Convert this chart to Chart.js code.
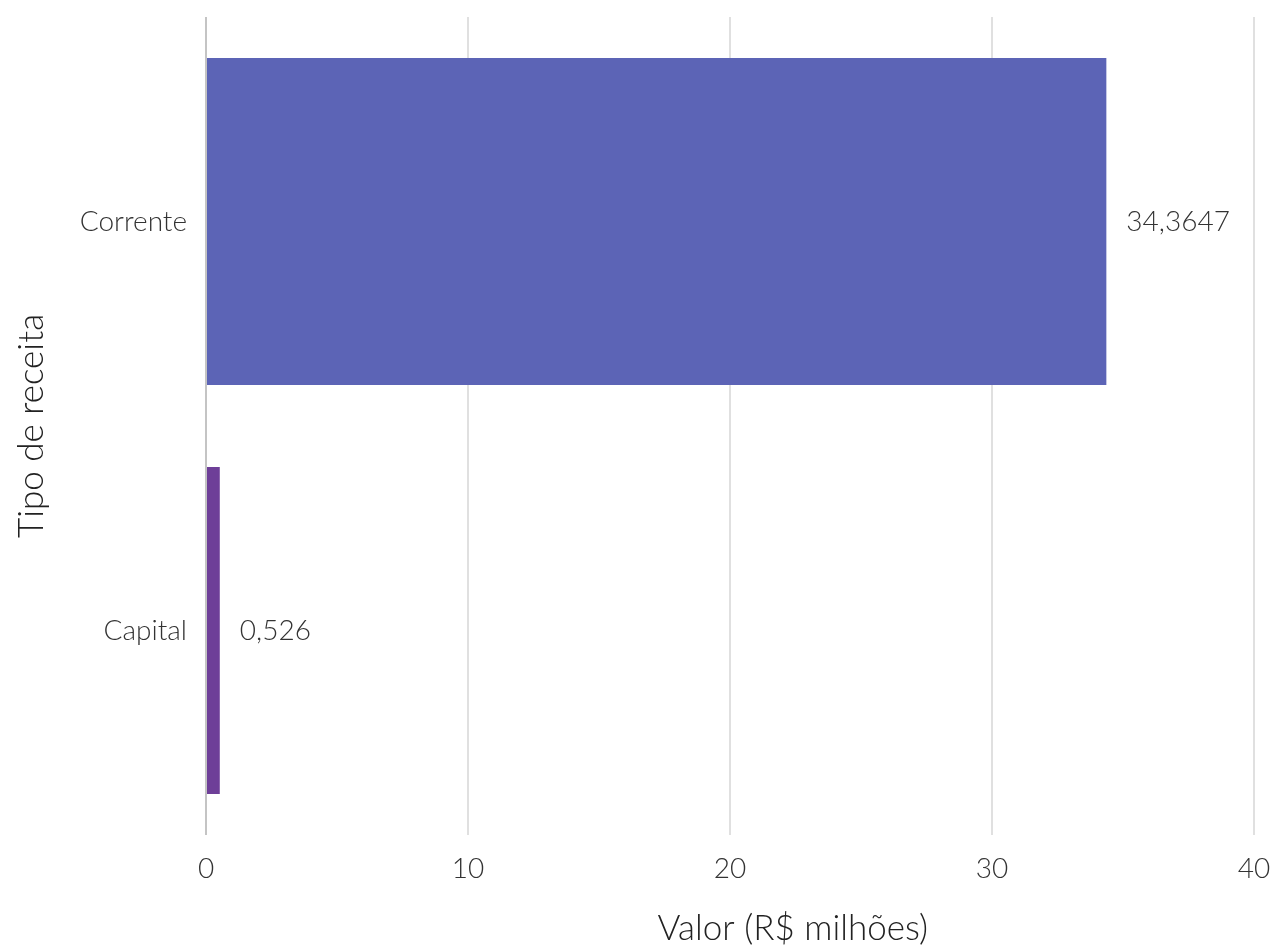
<!DOCTYPE html>
<html>
<head>
<meta charset="utf-8">
<script src="https://cdn.jsdelivr.net/npm/chart.js@4"></script>
<style>
  html, body { margin: 0; padding: 0; background: #fff; }
  #box { width: 1274px; height: 946px; }
</style>
</head>
<body>
<div id="box"><canvas id="receitaChart" width="1274" height="946"></canvas></div>
<script>
// dados
const categorias = ['Corrente', 'Capital'];
const valores = [34.3647, 0.526];
const rotulos = ['34,3647', '0,526'];
const coresBarras = ['#5c64b6', '#6e3f98'];
const ticksX = [0, 10, 20, 30, 40];
const tituloX = 'Valor (R$ milhões)';

const fonte = "Lato, 'Open Sans', sans-serif";

// rótulos de valor à direita das barras + título do eixo x (deslocado p/ direita)
const rotuloPlugin = {
  id: 'rotuloValor',
  afterDatasetsDraw(chart) {
    const ctx = chart.ctx;
    const meta = chart.getDatasetMeta(0);
    ctx.save();
    ctx.font = '300 28px ' + fonte;
    ctx.fillStyle = '#333';
    ctx.textAlign = 'left';
    ctx.textBaseline = 'middle';
    meta.data.forEach((bar, i) => {
      ctx.fillText(rotulos[i], bar.x + 20, bar.y);
    });
    const area = chart.chartArea;
    ctx.font = '300 35px ' + fonte;
    ctx.fillStyle = '#222';
    ctx.textAlign = 'center';
    ctx.fillText(tituloX, area.left + (area.right - area.left) * 0.56, 929);
    ctx.restore();
  }
};

new Chart(document.getElementById('receitaChart'), {
  type: 'bar',
  data: {
    labels: categorias,
    datasets: [{
      label: 'Valor',
      data: valores,
      backgroundColor: coresBarras,
      barPercentage: 0.8,
      categoryPercentage: 1.0
    }]
  },
  options: {
    indexAxis: 'y',
    responsive: false,
    animation: false,
    layout: { padding: { top: 17, right: 20, left: 0, bottom: 0 } },
    plugins: { legend: { display: false }, tooltip: { enabled: false } },
    scales: {
      x: {
        min: 0,
        max: 40,
        afterBuildTicks: axis => { axis.ticks = ticksX.map(v => ({ value: v })); },
        afterFit: axis => { axis.height = 111; axis.paddingLeft = 0; axis.paddingRight = 0; },
        border: { display: false },
        grid: {
          drawTicks: false,
          lineWidth: 2,
          color: c => (c.tick && c.tick.value === 0) ? '#c4c4c4' : '#e0e0e0'
        },
        ticks: {
          padding: 17,
          color: '#333',
          font: { family: fonte, size: 28, weight: '300' }
        },
        title: { display: false }
      },
      y: {
        afterFit: axis => { axis.width = 206; axis.paddingTop = 0; axis.paddingBottom = 0; },
        border: { display: false },
        grid: { display: false, drawTicks: false },
        ticks: {
          padding: 19,
          color: '#333',
          font: { family: fonte, size: 28, weight: '300' }
        },
        title: {
          display: true,
          text: 'Tipo de receita',
          color: '#222',
          font: { family: fonte, size: 35, weight: '300', lineHeight: 1.0 },
          padding: { top: 14, bottom: 0 }
        }
      }
    }
  },
  plugins: [rotuloPlugin]
});
</script>
</body>
</html>
